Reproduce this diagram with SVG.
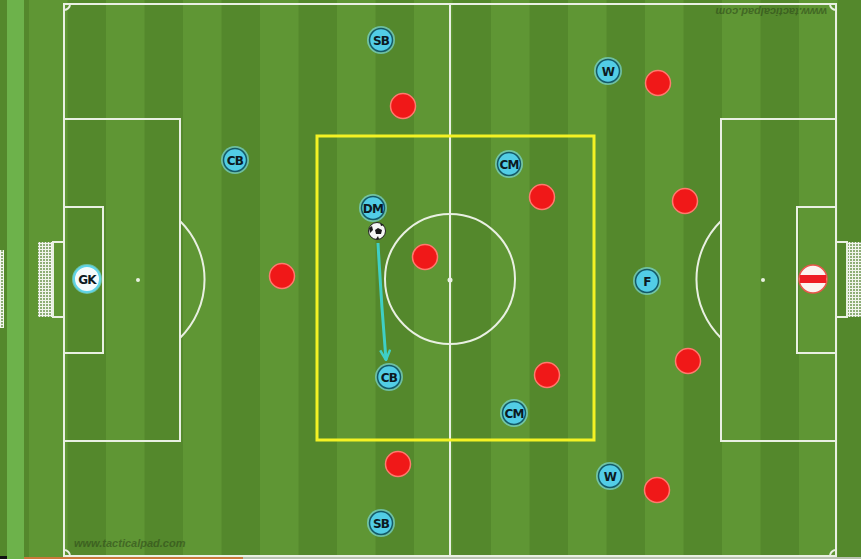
<svg xmlns="http://www.w3.org/2000/svg" width="861" height="559" viewBox="0 0 861 559">
<defs>
<pattern id="stripes" patternUnits="userSpaceOnUse" x="29" y="0" width="77" height="559">
<rect x="0" y="0" width="77" height="559" fill="#5f9634"/>
<rect x="38.5" y="0" width="38.5" height="559" fill="#54882c"/>
</pattern>
<pattern id="net" patternUnits="userSpaceOnUse" width="3" height="3">
<rect width="3" height="3" fill="#8fae78"/>
<path d="M0,0.5H3M0.5,0V3" stroke="#f2f5ee" stroke-width="1"/>
</pattern>
<marker id="arr" viewBox="0 0 12 12" refX="11" refY="6" markerWidth="12" markerHeight="12" orient="auto" markerUnits="userSpaceOnUse">
<path d="M1,1 L11,6 L1,11" fill="none" stroke="#3fcfc5" stroke-width="2.5" stroke-linejoin="miter"/>
</marker>
<style>
.line{fill:none;stroke:#e9f0e2;stroke-width:2}
.blue circle.o{fill:#7fe3f0;opacity:0.6}
.blue circle.i{fill:#52cde6;stroke:#145a68;stroke-width:1.5}
.blue text{font-family:"DejaVu Sans","Liberation Sans",sans-serif;font-weight:bold;font-size:12px;fill:#0c1a22;text-anchor:middle;dominant-baseline:central;letter-spacing:-0.8px}
.red circle{fill:#f01818;stroke:#ff7a6e;stroke-width:1.5}
.wm{font-family:"Liberation Sans",sans-serif;font-weight:bold;font-style:italic;font-size:11px;fill:#2b4418;opacity:0.55}
</style>
</defs>
<!-- background -->
<rect x="0" y="0" width="861" height="559" fill="url(#stripes)"/>
<rect x="7" y="0" width="17" height="559" fill="#6db24b"/>
<rect x="0" y="250" width="4" height="78" fill="url(#net)"/>
<!-- pitch markings -->
<g id="pitch">
<rect class="line" x="64" y="4" width="772" height="552"/>
<line class="line" x1="450" y1="4" x2="450" y2="556"/>
<circle class="line" cx="450" cy="279" r="65"/>
<circle cx="450" cy="280" r="2.5" fill="#e9f0e2"/>
<rect class="line" x="64" y="119" width="116" height="322"/>
<rect class="line" x="64" y="207" width="39" height="146"/>
<path class="line" d="M180,221 A82,82 0 0 1 180,338"/>
<circle cx="138" cy="280" r="2" fill="#e9f0e2"/>
<rect class="line" x="721" y="119" width="115" height="322"/>
<rect class="line" x="797" y="207" width="39" height="146"/>
<path class="line" d="M721,221 A82,82 0 0 0 721,338"/>
<circle cx="763" cy="280" r="2" fill="#e9f0e2"/>
<path class="line" d="M64,10 A6,6 0 0 0 70,4 M830,4 A6,6 0 0 0 836,10 M70,556 A6,6 0 0 0 64,550 M836,550 A6,6 0 0 0 830,556"/>
<rect x="38" y="242" width="15" height="75" fill="url(#net)"/>
<rect class="line" x="53" y="242" width="11" height="75"/>
<rect x="847" y="242" width="14" height="75" fill="url(#net)"/>
<rect class="line" x="836" y="242" width="11" height="75"/>
</g>
<rect x="24" y="557" width="219" height="2" fill="#c9793a"/>
<rect x="243" y="557" width="618" height="2" fill="#b8c2b0"/>
<rect x="0" y="556" width="7" height="3" fill="#111"/>
<!-- zone -->
<rect id="zone" x="317" y="136" width="277" height="304" fill="none" stroke="#f3f224" stroke-width="3"/>
<text class="wm" x="74" y="547">www.tacticalpad.com</text>
<text class="wm" x="0" y="0" transform="translate(827,8) rotate(180)">www.tacticalpad.com</text>
<!-- connectors -->
<g id="connectors">
<path d="M378,243 Q381,300 386,360" fill="none" stroke="#3fcfc5" stroke-width="3" marker-end="url(#arr)"/>
</g>
<!-- blue players -->
<g id="b-sb1" class="blue"><circle class="o" cx="381" cy="40" r="14"/><circle class="i" cx="381" cy="40" r="11.5"/><text x="381" y="40.5">SB</text></g>
<g id="b-w1" class="blue"><circle class="o" cx="608" cy="71" r="14"/><circle class="i" cx="608" cy="71" r="11.5"/><text x="608" y="71.5">W</text></g>
<g id="b-cb1" class="blue"><circle class="o" cx="235" cy="160" r="14"/><circle class="i" cx="235" cy="160" r="11.5"/><text x="235" y="160.5">CB</text></g>
<g id="b-cm1" class="blue"><circle class="o" cx="509" cy="164" r="14"/><circle class="i" cx="509" cy="164" r="11.5"/><text x="509" y="164.5">CM</text></g>
<g id="b-dm" class="blue"><circle class="o" cx="373" cy="208" r="14"/><circle class="i" cx="373" cy="208" r="11.5"/><text x="373" y="208.5">DM</text></g>
<g id="b-gk" class="blue"><circle class="o" cx="87" cy="279" r="15"/><circle cx="87" cy="279" r="13" fill="#f4fbfc" stroke="#5fd4e8" stroke-width="2"/><text x="87" y="279.5">GK</text></g>
<g id="b-f" class="blue"><circle class="o" cx="647" cy="281" r="14"/><circle class="i" cx="647" cy="281" r="11.5"/><text x="647" y="281.5">F</text></g>
<g id="b-cb2" class="blue"><circle class="o" cx="389" cy="377" r="14"/><circle class="i" cx="389" cy="377" r="11.5"/><text x="389" y="377.5">CB</text></g>
<g id="b-cm2" class="blue"><circle class="o" cx="514" cy="413" r="14"/><circle class="i" cx="514" cy="413" r="11.5"/><text x="514" y="413.5">CM</text></g>
<g id="b-w2" class="blue"><circle class="o" cx="610" cy="476" r="14"/><circle class="i" cx="610" cy="476" r="11.5"/><text x="610" y="476.5">W</text></g>
<g id="b-sb2" class="blue"><circle class="o" cx="381" cy="523" r="14"/><circle class="i" cx="381" cy="523" r="11.5"/><text x="381" y="523.5">SB</text></g>
<!-- red players -->
<g id="r1" class="red"><circle cx="403" cy="106" r="12.5"/></g>
<g id="r2" class="red"><circle cx="658" cy="83" r="12.5"/></g>
<g id="r3" class="red"><circle cx="542" cy="197" r="12.5"/></g>
<g id="r4" class="red"><circle cx="685" cy="201" r="12.5"/></g>
<g id="r5" class="red"><circle cx="425" cy="257" r="12.5"/></g>
<g id="r6" class="red"><circle cx="282" cy="276" r="12.5"/></g>
<g id="r7" class="red"><circle cx="688" cy="361" r="12.5"/></g>
<g id="r8" class="red"><circle cx="547" cy="375" r="12.5"/></g>
<g id="r9" class="red"><circle cx="398" cy="464" r="12.5"/></g>
<g id="r10" class="red"><circle cx="657" cy="490" r="12.5"/></g>
<g id="r-gk"><circle cx="813" cy="279" r="14" fill="#fbf3f0" stroke="#e8554a" stroke-width="1.5"/><rect x="800" y="275" width="26" height="8" fill="#ee1c24"/></g>
<!-- ball -->
<g id="ball">
<circle cx="377" cy="231" r="8.5" fill="#f6f6f6" stroke="#222" stroke-width="1"/>
<polygon points="378,228 382,230 381,234 376,234 375,230" fill="#1a1a1a"/>
<path d="M369,228 L372,226 L373,230 L370,233 Z M376,239 L379,239 L378,236 Z M380,223 L384,225 L381,226 Z" fill="#1a1a1a"/>
</g>
</svg>
